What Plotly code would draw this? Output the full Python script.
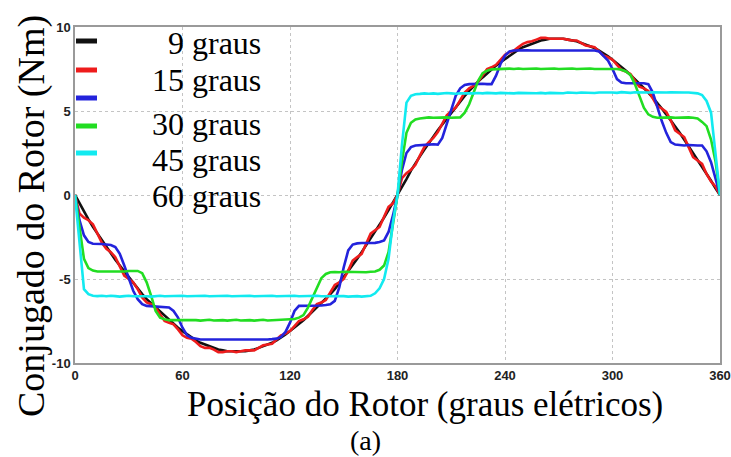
import numpy as np
import plotly.graph_objects as go

# Rotor position grid (electrical degrees), 2.5 deg spacing from 0 to 360
posicao = np.arange(0, 360.01, 2.5)

# Torque curves (Nm) for each skew angle, one value per grid point
torque_9 = [
    0, -0.5, -1.0, -1.45, -1.9, -2.3, -2.7, -3.1, -3.5, -3.85, -4.2, -4.55,
    -4.9, -5.25, -5.6, -5.9, -6.2, -6.45, -6.7, -6.95, -7.2, -7.45, -7.7, -7.9,
    -8.1, -8.3, -8.5, -8.65, -8.8, -8.9, -9.0, -9.1, -9.2, -9.25, -9.3, -9.3,
    -9.3, -9.3, -9.3, -9.25, -9.2, -9.1, -9.0, -8.9, -8.8, -8.65, -8.5, -8.3,
    -8.1, -7.9, -7.7, -7.45, -7.2, -6.95, -6.7, -6.45, -6.2, -5.9, -5.6, -5.25,
    -4.9, -4.55, -4.2, -3.8, -3.4, -3.0, -2.6, -2.2, -1.8, -1.35, -0.9, -0.45,
    0, 0.5, 0.95, 1.45, 1.9, 2.3, 2.7, 3.1, 3.5, 3.85, 4.2, 4.55,
    4.9, 5.25, 5.6, 5.9, 6.2, 6.5, 6.75, 7.0, 7.25, 7.5, 7.7, 7.9,
    8.1, 8.3, 8.5, 8.65, 8.8, 8.9, 9.0, 9.1, 9.2, 9.25, 9.3, 9.3,
    9.3, 9.3, 9.25, 9.2, 9.15, 9.05, 8.95, 8.85, 8.75, 8.6, 8.45, 8.25,
    8.05, 7.85, 7.65, 7.4, 7.15, 6.9, 6.65, 6.4, 6.1, 5.8, 5.5, 5.15,
    4.8, 4.45, 4.1, 3.7, 3.3, 2.9, 2.5, 2.1, 1.7, 1.3, 0.85, 0.4,
    0,
]

torque_15 = [
    0, -1.1, -1.35, -1.5, -1.75, -2.3, -2.85, -3.2, -3.4, -3.7, -4.3, -4.8,
    -5.0, -5.2, -5.6, -6.1, -6.4, -6.5, -6.7, -7.1, -7.5, -7.6, -7.7, -8.0,
    -8.35, -8.5, -8.55, -8.75, -9.0, -9.1, -9.1, -9.2, -9.35, -9.35, -9.3, -9.3,
    -9.35, -9.3, -9.25, -9.25, -9.25, -9.1, -8.95, -8.9, -8.85, -8.6, -8.35, -8.25,
    -8.1, -7.8, -7.5, -7.4, -7.25, -6.85, -6.5, -6.4, -6.25, -5.8, -5.35, -5.2,
    -5.0, -4.5, -3.9, -3.7, -3.5, -2.9, -2.3, -2.1, -1.9, -1.3, -0.7, -0.5,
    0, 1.0, 1.3, 1.5, 1.8, 2.35, 2.85, 3.15, 3.4, 3.75, 4.3, 4.75,
    5.0, 5.2, 5.65, 6.1, 6.35, 6.5, 6.75, 7.15, 7.5, 7.6, 7.75, 8.05,
    8.35, 8.5, 8.6, 8.8, 9.0, 9.1, 9.15, 9.25, 9.35, 9.35, 9.3, 9.3,
    9.3, 9.3, 9.25, 9.2, 9.2, 9.05, 8.9, 8.85, 8.8, 8.55, 8.3, 8.2,
    8.05, 7.75, 7.45, 7.35, 7.2, 6.8, 6.45, 6.35, 6.2, 5.75, 5.3, 5.15,
    4.95, 4.45, 3.85, 3.65, 3.45, 2.85, 2.25, 2.05, 1.85, 1.25, 0.8, 0.5,
    0,
]

torque_30 = [
    0, -1.5, -2.4, -2.8, -2.9, -2.9, -2.92, -2.95, -2.98, -3.1, -3.5, -4.2,
    -5.0, -5.7, -6.2, -6.5, -6.6, -6.62, -6.6, -6.63, -6.65, -6.7, -6.9, -7.3,
    -7.9, -8.35, -8.5, -8.55, -8.6, -8.6, -8.62, -8.6, -8.6, -8.62, -8.6, -8.6,
    -8.62, -8.6, -8.6, -8.62, -8.6, -8.6, -8.62, -8.6, -8.58, -8.55, -8.45, -8.15,
    -7.6, -6.9, -6.6, -6.6, -6.62, -6.6, -6.6, -6.58, -6.55, -6.5, -6.3, -5.5,
    -4.3, -3.3, -2.95, -2.88, -2.86, -2.86, -2.85, -2.85, -2.8, -2.7, -2.2, -1.2,
    0, 1.5, 2.5, 2.85, 2.95, 2.98, 3.0, 3.0, 3.02, 3.0, 3.4, 4.2,
    5.1, 5.9, 6.35, 6.55, 6.6, 6.62, 6.6, 6.62, 6.6, 6.6, 7.1, 7.8,
    8.3, 8.55, 8.6, 8.62, 8.6, 8.62, 8.6, 8.6, 8.62, 8.6, 8.62, 8.6,
    8.6, 8.62, 8.6, 8.62, 8.6, 8.6, 8.6, 8.58, 8.6, 8.55, 8.3, 8.0,
    7.5, 6.9, 6.7, 6.65, 6.65, 6.67, 6.65, 6.65, 6.6, 6.1, 5.2, 4.4,
    3.7, 3.15, 3.0, 2.98, 2.95, 2.98, 2.95, 2.95, 2.95, 2.6, 1.95, 1.0,
    0,
]

torque_45 = [
    0, -1.9, -3.8, -4.35, -4.5, -4.55, -4.55, -4.57, -4.55, -4.55, -4.57, -4.55,
    -4.52, -4.5, -4.52, -4.65, -5.2, -6.0, -6.9, -7.3, -7.4, -7.45, -7.45, -7.47,
    -7.45, -7.43, -7.47, -7.45, -7.48, -7.45, -7.43, -7.47, -7.45, -7.45, -7.48, -7.45,
    -7.43, -7.47, -7.45, -7.45, -7.48, -7.45, -7.43, -7.47, -7.45, -7.45, -7.45, -7.42,
    -7.4, -7.38, -7.3, -7.15, -6.7, -6.1, -5.45, -4.95, -4.7, -4.6, -4.58, -4.6,
    -4.57, -4.58, -4.6, -4.57, -4.58, -4.6, -4.57, -4.55, -4.45, -4.2, -3.4, -1.8,
    0, 2.0, 3.7, 4.3, 4.5, 4.55, 4.6, 4.62, 4.6, 4.62, 4.6, 4.62,
    4.6, 4.62, 4.62, 4.9, 5.4, 6.1, 6.8, 7.25, 7.4, 7.48, 7.5, 7.52,
    7.5, 7.52, 7.5, 7.53, 7.5, 7.52, 7.5, 7.53, 7.5, 7.52, 7.5, 7.53,
    7.5, 7.52, 7.5, 7.53, 7.5, 7.52, 7.5, 7.53, 7.5, 7.52, 7.5, 7.5,
    7.52, 7.5, 7.45, 7.35, 7.15, 6.6, 5.9, 5.2, 4.8, 4.65, 4.6, 4.62,
    4.6, 4.62, 4.6, 4.62, 4.6, 4.62, 4.6, 4.55, 4.35, 4.1, 3.3, 2.0,
    0,
]

torque_60 = [
    0, -3.0, -5.6, -5.9, -6.0, -6.02, -6.0, -6.03, -6.0, -6.02, -6.05, -6.02,
    -6.0, -6.03, -6.02, -6.0, -6.03, -6.05, -6.02, -6.0, -6.03, -6.02, -6.05, -6.02,
    -6.0, -6.03, -6.02, -6.05, -6.02, -6.0, -6.03, -6.02, -6.05, -6.02, -6.0, -6.03,
    -6.02, -6.05, -6.02, -6.0, -6.03, -6.02, -6.05, -6.02, -6.0, -6.03, -6.02, -6.05,
    -6.02, -6.0, -6.03, -6.02, -6.05, -6.02, -6.0, -6.03, -6.02, -6.05, -6.02, -6.0,
    -6.02, -6.05, -6.03, -6.02, -6.05, -6.03, -6.0, -5.85, -5.55, -5.0, -3.8, -1.6,
    0, 3.0, 5.5, 5.9, 6.0, 6.02, 6.05, 6.03, 6.05, 6.02, 6.05, 6.07,
    6.05, 6.03, 6.06, 6.05, 6.08, 6.05, 6.07, 6.05, 6.08, 6.06, 6.05, 6.08,
    6.06, 6.08, 6.05, 6.08, 6.07, 6.05, 6.08, 6.06, 6.08, 6.05, 6.08, 6.07,
    6.08, 6.06, 6.1, 6.08, 6.07, 6.1, 6.08, 6.1, 6.07, 6.1, 6.08, 6.1,
    6.1, 6.08, 6.12, 6.1, 6.08, 6.12, 6.1, 6.12, 6.1, 6.12, 6.1, 6.12,
    6.1, 6.12, 6.1, 6.12, 6.1, 6.1, 6.08, 6.05, 5.95, 5.6, 4.9, 2.5,
    0,
]

series_values = [torque_9, torque_15, torque_30, torque_45, torque_60]
series_colors = ["#111111", "#ee1c1c", "#2323dc", "#22dd22", "#12eaf0"]
legend_labels = ["9 graus", "15 graus", "30 graus", "45 graus", "60 graus"]

x_ticks = [0, 60, 120, 180, 240, 300, 360]
y_ticks = [-10, -5, 0, 5, 10]

W, H = 731, 457
L, R, T, B = 75, 11, 27, 94
pw, ph = W - L - R, H - T - B


def px_x(p):
    return (p - L) / pw


def px_y(p):
    return (H - B - p) / ph


fig = go.Figure()
for vals, col in zip(series_values, series_colors):
    fig.add_trace(go.Scatter(
        x=posicao, y=vals, mode="lines",
        line=dict(color=col, width=2.6),
        showlegend=False, hoverinfo="skip",
    ))

serif = "Liberation Serif, Times New Roman, serif"

shapes = [
    # white box behind the legend entries
    dict(type="rect", xref="paper", yref="paper",
         x0=0, x1=px_x(208), y0=px_y(180), y1=1,
         fillcolor="white", line=dict(width=0), layer="between"),
]
legend_line_y = [41, 70, 98, 126, 153]
for yy, col in zip(legend_line_y, series_colors):
    shapes.append(dict(type="line", xref="paper", yref="paper",
                       x0=px_x(76), x1=px_x(97), y0=px_y(yy), y1=px_y(yy),
                       line=dict(color=col, width=5)))

annotations = []
legend_text_y = [43, 80, 124, 160, 196]
for yy, lab in zip(legend_text_y, legend_labels):
    annotations.append(dict(text=lab, xref="paper", yref="paper",
                            x=px_x(263), y=px_y(yy), xanchor="right", yanchor="middle",
                            showarrow=False, font=dict(family=serif, size=32, color="black")))

annotations.append(dict(text="Conjugado do Rotor (Nm)", xref="paper", yref="paper",
                        x=px_x(31), y=px_y(216), xanchor="center", yanchor="middle",
                        textangle=-90, showarrow=False,
                        font=dict(family=serif, size=38, color="black")))
annotations.append(dict(text="Posição do Rotor (graus elétricos)", xref="paper", yref="paper",
                        x=px_x(425), y=px_y(404), xanchor="center", yanchor="middle",
                        showarrow=False, font=dict(family=serif, size=35, color="black")))
annotations.append(dict(text="(a)", xref="paper", yref="paper",
                        x=px_x(365), y=px_y(440), xanchor="center", yanchor="middle",
                        showarrow=False, font=dict(family=serif, size=28, color="black")))

tick_font = dict(family="Liberation Sans, Arial, sans-serif", size=13, color="#222222", weight="bold")

fig.update_layout(
    width=W, height=H,
    margin=dict(l=L, r=R, t=T, b=B, autoexpand=False),
    paper_bgcolor="white", plot_bgcolor="white",
    shapes=shapes, annotations=annotations,
    xaxis=dict(range=[0, 360], tickvals=x_ticks, ticktext=[str(v) for v in x_ticks],
               showgrid=True, gridcolor="#c4c4c4", griddash="dot", gridwidth=1,
               zeroline=False, showline=True, mirror=True, linecolor="#9a9a9a", linewidth=1.5,
               ticks="", tickfont=tick_font, automargin=False),
    yaxis=dict(range=[-10, 10], tickvals=y_ticks, ticktext=[str(v) for v in y_ticks],
               showgrid=True, gridcolor="#c4c4c4", griddash="dot", gridwidth=1,
               zeroline=False, showline=True, mirror=True, linecolor="#9a9a9a", linewidth=1.5,
               ticks="", tickfont=tick_font, automargin=False),
)

fig.write_html("out.html")
